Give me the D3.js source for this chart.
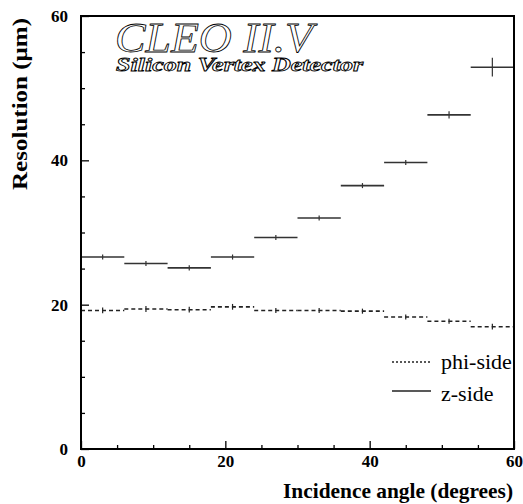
<!DOCTYPE html>
<html><head><meta charset="utf-8">
<script src="https://cdn.jsdelivr.net/npm/d3@7/dist/d3.min.js"></script>
<style>body{margin:0;background:#fff}svg{display:block}svg text{font-family:"Liberation Serif","Times New Roman",Times,serif}</style>
</head><body>
<svg id="c" width="523" height="504"></svg>
<script>
const binEdges = [0, 6, 12, 18, 24, 30, 36, 42, 48, 54, 60];
const zSide = [26.6, 25.7, 25.1, 26.6, 29.3, 32.0, 36.5, 39.7, 46.3, 52.9];
const zErr = [0.35, 0.35, 0.35, 0.35, 0.35, 0.35, 0.35, 0.35, 0.5, 1.3];
const phiSide = [19.2, 19.4, 19.3, 19.7, 19.2, 19.2, 19.1, 18.3, 17.7, 16.95];
const phiErr = [0.4, 0.4, 0.4, 0.4, 0.35, 0.35, 0.35, 0.35, 0.35, 0.4];
const majorTicks = [0, 20, 40, 60];
const minorTicks = [5, 10, 15, 25, 30, 35, 45, 50, 55];
const seriesNames = ["phi-side", "z-side"];

const svg = d3.select("#c");
const x = d3.scaleLinear().domain([0, 60]).range([81, 514]);
const y = d3.scaleLinear().domain([0, 60]).range([449, 16]);
const font = '"Liberation Serif", "Times New Roman", Times, serif';

function drawHist(vals, errs, dash, color) {
  const g = svg.append("g");
  vals.forEach((v, i) => {
    const x0 = binEdges[i], x1 = binEdges[i + 1], xc = (x0 + x1) / 2;
    g.append("line").attr("x1", x(x0)).attr("x2", x(x1)).attr("y1", y(v)).attr("y2", y(v))
      .attr("stroke", color).attr("stroke-width", 1.6).attr("stroke-dasharray", dash);
    g.append("line").attr("x1", x(xc)).attr("x2", x(xc)).attr("y1", y(v - errs[i])).attr("y2", y(v + errs[i]))
      .attr("stroke", color).attr("stroke-width", 1.2);
  });
}
drawHist(zSide, zErr, null, "#333");
drawHist(phiSide, phiErr, "4,3", "#222");

const axFont = g => g.selectAll("text").style("font-family", font).style("font-weight", "bold").style("font-size", "17px").attr("fill", "#000");
const xMaj = svg.append("g").attr("transform", "translate(0,449)")
  .call(d3.axisBottom(x).tickValues(majorTicks).tickSize(-8).tickPadding(6).tickFormat(d3.format("d")));
xMaj.select(".domain").remove(); axFont(xMaj);
xMaj.selectAll("line").attr("stroke-width", 1.3);
const xMin = svg.append("g").attr("transform", "translate(0,449)")
  .call(d3.axisBottom(x).tickValues(minorTicks).tickSize(-4).tickFormat(""));
xMin.select(".domain").remove(); xMin.selectAll("line").attr("stroke-width", 1.3);

const yMaj = svg.append("g").attr("transform", "translate(81,0)")
  .call(d3.axisLeft(y).tickValues(majorTicks).tickSize(-8).tickPadding(13).tickFormat(d3.format("d")));
yMaj.select(".domain").remove(); axFont(yMaj);
yMaj.selectAll("line").attr("stroke-width", 1.3);
const yMin = svg.append("g").attr("transform", "translate(81,0)")
  .call(d3.axisLeft(y).tickValues(minorTicks).tickSize(-4).tickFormat(""));
yMin.select(".domain").remove(); yMin.selectAll("line").attr("stroke-width", 1.3);

svg.append("rect").attr("x", x(0)).attr("y", y(60)).attr("width", x(60) - x(0)).attr("height", y(0) - y(60))
  .attr("fill", "none").attr("stroke", "#000").attr("stroke-width", 2);

svg.append("text").attr("x", 513).attr("y", 498).attr("text-anchor", "end")
  .style("font-family", font).style("font-weight", "bold").style("font-size", "21px")
  .attr("textLength", 230).attr("lengthAdjust", "spacingAndGlyphs")
  .text("Incidence angle (degrees)");
svg.append("text").attr("transform", "translate(27,18) rotate(-90)").attr("text-anchor", "end")
  .style("font-family", font).style("font-weight", "bold").style("font-size", "21px")
  .attr("textLength", 172).attr("lengthAdjust", "spacingAndGlyphs")
  .text("Resolution (\u03bcm)");

svg.append("text").attr("x", 115).attr("y", 52)
  .style("font-family", font).style("font-style", "italic").style("font-size", "42px")
  .attr("fill", "#fff").attr("stroke", "#000").attr("stroke-width", 0.8)
  .attr("textLength", 198).attr("lengthAdjust", "spacingAndGlyphs")
  .text("CLEO II.V");
svg.append("text").attr("x", 116).attr("y", 71)
  .style("font-family", font).style("font-style", "italic").style("font-weight", "bold").style("font-size", "18px")
  .attr("fill", "#fff").attr("stroke", "#000").attr("stroke-width", 0.8)
  .attr("textLength", 247).attr("lengthAdjust", "spacingAndGlyphs")
  .text("Silicon Vertex Detector");

const leg = [{name: seriesNames[0], dash: "2,2", yy: 362, ty: 369}, {name: seriesNames[1], dash: null, yy: 391, ty: 401}];
leg.forEach(l => {
  svg.append("line").attr("x1", 392).attr("x2", 431).attr("y1", l.yy).attr("y2", l.yy)
    .attr("stroke", "#222").attr("stroke-width", 1.3).attr("stroke-dasharray", l.dash);
  svg.append("text").attr("x", 441).attr("y", l.ty).style("font-family", font).style("font-size", "22px")
    .text(l.name);
});
</script>
</body></html>
